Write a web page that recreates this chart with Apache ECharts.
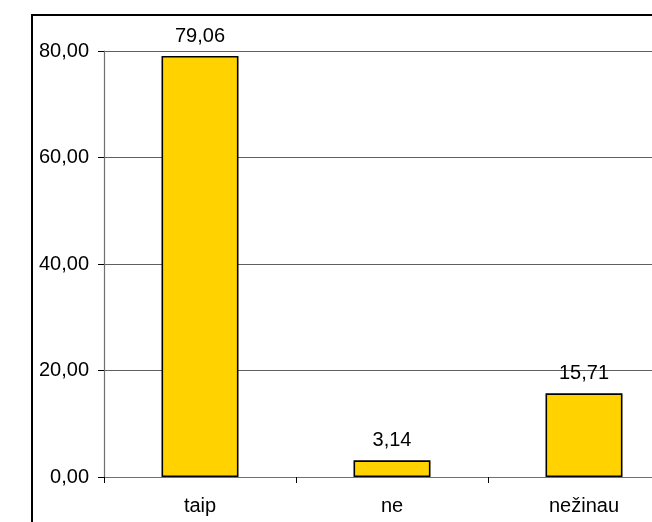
<!DOCTYPE html>
<html>
<head>
<meta charset="utf-8">
<script src="https://cdn.jsdelivr.net/npm/echarts@6/dist/echarts.min.js"></script>
<style>
  html, body { margin: 0; padding: 0; background: #fff; overflow: hidden; }
  .wrap { position: relative; width: 652px; height: 522px; overflow: hidden; }
  /* outer chart frame, only left and top edges are visible */
  .frame {
    position: absolute; left: 31px; top: 14px; width: 700px; height: 600px;
    border-left: 2px solid #000; border-top: 2px solid #000;
  }
  #chart { position: absolute; left: 0; top: 0; width: 720px; height: 522px; }
</style>
</head>
<body>
<div class="wrap">
  <div class="frame"></div>
  <div id="chart"></div>
</div>
<script>
// data
const categories = ["taip", "ne", "nežinau"];
const values = [79.06, 3.14, 15.71];
const yTicks = { min: 0, max: 80, interval: 20 };

const fmt = (v) => Number(v).toFixed(2).replace(".", ",");
const FONT = "Liberation Sans, Arial, sans-serif";

const chart = echarts.init(document.getElementById("chart"), null, { renderer: "canvas" });
chart.setOption({
  backgroundColor: "transparent",
  animation: false,
  grid: { left: 104, top: 51, bottom: 45, right: 40, outerBoundsMode: "none" },
  xAxis: {
    type: "category",
    data: categories,
    axisLine: { lineStyle: { color: "#707070", width: 1.2 } },
    axisTick: { show: true, length: 6, lineStyle: { color: "#000" } },
    axisLabel: { color: "#000", fontSize: 20, fontFamily: FONT, margin: 19 },
  },
  yAxis: {
    type: "value",
    min: yTicks.min,
    max: yTicks.max,
    interval: yTicks.interval,
    axisLine: { show: true, lineStyle: { color: "#707070", width: 1.2 } },
    axisTick: { show: true, length: 6, lineStyle: { color: "#000" } },
    axisLabel: { color: "#000", fontSize: 20, fontFamily: FONT, margin: 15, formatter: fmt },
    splitLine: { show: true, lineStyle: { color: "#606060", width: 1.2 } },
  },
  series: [
    {
      type: "bar",
      data: values,
      barWidth: 77,
      itemStyle: { color: "#FFD200", borderColor: "#000", borderWidth: 1.6 },
      label: {
        show: true,
        position: "top",
        distance: 10,
        color: "#000",
        fontSize: 20,
        fontFamily: FONT,
        formatter: (p) => fmt(p.value),
      },
    },
  ],
});
</script>
</body>
</html>
